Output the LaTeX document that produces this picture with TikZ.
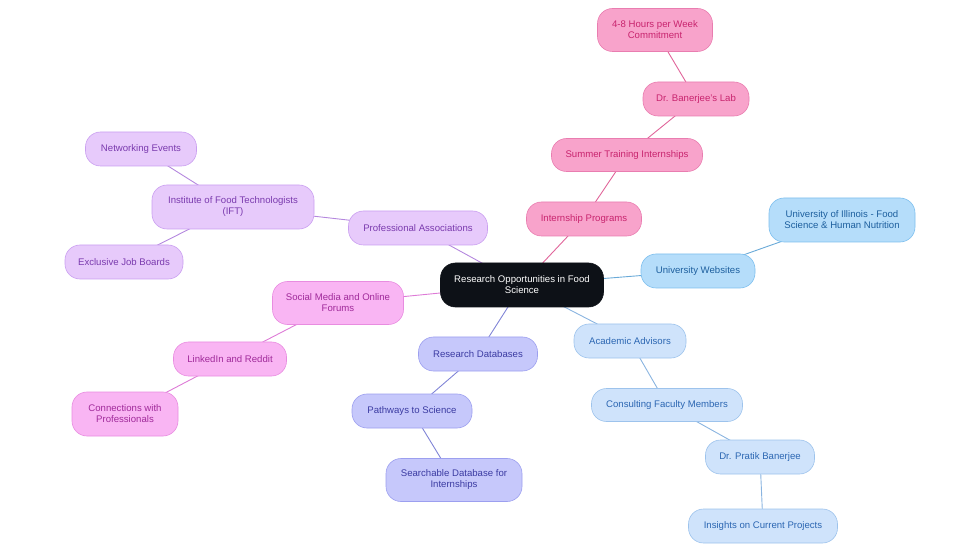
\documentclass[tikz,border=0pt]{standalone}
\usepackage{fontspec}
\setmainfont{Liberation Sans}
\usetikzlibrary{backgrounds}
\definecolor{rootfill}{HTML}{0D1117}
\definecolor{pkfill}{HTML}{F8A3CB}\definecolor{pkdraw}{HTML}{E97DB0}\definecolor{pktext}{HTML}{C8246E}\definecolor{pkline}{HTML}{E0659A}
\definecolor{bufill}{HTML}{B5DDFA}\definecolor{budraw}{HTML}{7DBFEE}\definecolor{butext}{HTML}{1D5F9E}\definecolor{buline}{HTML}{6AAAD8}
\definecolor{lbfill}{HTML}{CFE3FB}\definecolor{lbdraw}{HTML}{9DC3EC}\definecolor{lbtext}{HTML}{2B66B2}\definecolor{lbline}{HTML}{8AB4E0}
\definecolor{pwfill}{HTML}{C6C8FB}\definecolor{pwdraw}{HTML}{9C9FEF}\definecolor{pwtext}{HTML}{3B3BA2}\definecolor{pwline}{HTML}{8084D6}
\definecolor{mgfill}{HTML}{F9B5F3}\definecolor{mgdraw}{HTML}{E88CE0}\definecolor{mgtext}{HTML}{A02A9A}\definecolor{mgline}{HTML}{DD7AD6}
\definecolor{lvfill}{HTML}{E7CAFB}\definecolor{lvdraw}{HTML}{CA9FF0}\definecolor{lvtext}{HTML}{7A3AAE}\definecolor{lvline}{HTML}{B487DE}
\tikzset{
  box/.style={rounded corners=15pt, align=center, inner sep=0pt, font=\fontsize{9.6}{11}\selectfont, line width=0.6pt},
  rootbox/.style={box, fill=rootfill, draw=rootfill, text=white, minimum width=163pt, minimum height=44pt},
  pk/.style={box, fill=pkfill, draw=pkdraw, text=pktext},
  bu/.style={box, fill=bufill, draw=budraw, text=butext},
  lb/.style={box, fill=lbfill, draw=lbdraw, text=lbtext},
  pw/.style={box, fill=pwfill, draw=pwdraw, text=pwtext},
  mg/.style={box, fill=mgfill, draw=mgdraw, text=mgtext},
  lv/.style={box, fill=lvfill, draw=lvdraw, text=lvtext},
  conn/.style={line width=0.9pt},
}
\begin{document}
\begin{tikzpicture}[x=1pt,y=-1pt]
\useasboundingbox (0,0) rectangle (980,553);
% nodes
\node[rootbox] (root) at (522,285) {Research Opportunities in Food\\Science};
\node[pk, minimum width=115pt, minimum height=43pt] (hours) at (655,30) {4-8 Hours per Week\\Commitment};
\node[pk, minimum width=106pt, minimum height=34pt] (lab) at (696,99) {Dr. Banerjee's Lab};
\node[pk, minimum width=151pt, minimum height=33pt] (summer) at (627,155) {Summer Training Internships};
\node[pk, minimum width=115pt, minimum height=34pt] (intern) at (584,219) {Internship Programs};
\node[bu, minimum width=114pt, minimum height=34pt] (uniweb) at (698,271) {University Websites};
\node[bu, minimum width=146pt, minimum height=44pt] (illinois) at (842,220) {University of Illinois - Food\\Science \& Human Nutrition};
\node[lb, minimum width=112pt, minimum height=34pt] (advisors) at (630,341) {Academic Advisors};
\node[lb, minimum width=151pt, minimum height=33pt] (faculty) at (667,405) {Consulting Faculty Members};
\node[lb, minimum width=109pt, minimum height=34pt] (pratik) at (760,457) {Dr. Pratik Banerjee};
\node[lb, minimum width=149pt, minimum height=34pt] (insights) at (763,526) {Insights on Current Projects};
\node[pw, minimum width=119pt, minimum height=34pt] (resdb) at (478,354) {Research Databases};
\node[pw, minimum width=120pt, minimum height=34pt] (pathways) at (412,411) {Pathways to Science};
\node[pw, minimum width=136pt, minimum height=43pt] (search) at (454,480) {Searchable Database for\\Internships};
\node[mg, minimum width=131pt, minimum height=43pt] (social) at (338,303) {Social Media and Online\\Forums};
\node[mg, minimum width=113pt, minimum height=34pt] (linked) at (230,359) {LinkedIn and Reddit};
\node[mg, minimum width=106pt, minimum height=44pt] (connect) at (125,414) {Connections with\\Professionals};
\node[lv, minimum width=139pt, minimum height=34pt] (profassoc) at (418,228) {Professional Associations};
\node[lv, minimum width=162pt, minimum height=44pt] (ift) at (233,207) {Institute of Food Technologists\\(IFT)};
\node[lv, minimum width=111pt, minimum height=34pt] (network) at (141,149) {Networking Events};
\node[lv, minimum width=118pt, minimum height=34pt] (jobs) at (124,262) {Exclusive Job Boards};
% connectors
\begin{scope}[on background layer]
\draw[conn, pkline] (root.center) -- (intern.center);
\draw[conn, pkline] (intern.center) -- (summer.center);
\draw[conn, pkline] (summer.center) -- (lab.center);
\draw[conn, pkline] (lab.center) -- (hours.center);
\draw[conn, buline] (root.center) -- (uniweb.center);
\draw[conn, buline] (uniweb.center) -- (illinois.center);
\draw[conn, lbline] (root.center) -- (advisors.center);
\draw[conn, lbline] (advisors.center) -- (faculty.center);
\draw[conn, lbline] (faculty.center) -- (pratik.center);
\draw[conn, lbline] (pratik.center) -- (insights.center);
\draw[conn, pwline] (root.center) -- (resdb.center);
\draw[conn, pwline] (resdb.center) -- (pathways.center);
\draw[conn, pwline] (pathways.center) -- (search.center);
\draw[conn, mgline] (root.center) -- (social.center);
\draw[conn, mgline] (social.center) -- (linked.center);
\draw[conn, mgline] (linked.center) -- (connect.center);
\draw[conn, lvline] (root.center) -- (profassoc.center);
\draw[conn, lvline] (profassoc.center) -- (ift.center);
\draw[conn, lvline] (ift.center) -- (network.center);
\draw[conn, lvline] (ift.center) -- (jobs.center);
\end{scope}
\end{tikzpicture}
\end{document}
